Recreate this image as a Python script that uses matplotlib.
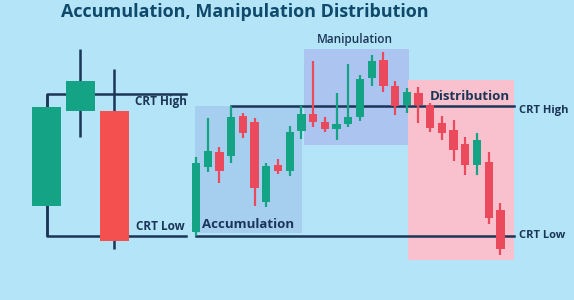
import matplotlib
matplotlib.use("Agg")
import matplotlib.pyplot as plt
from matplotlib.patches import Rectangle

# ---- data (price units) ----
left_open = [94, 189, 189]
left_close = [193, 219, 59]
left_high = [206, 251, 231]
left_low = [64, 163, 51]

main_open = [68, 133, 148, 144, 184, 178, 98, 135, 129, 169, 186, 178, 171, 176,
             183, 222, 240, 214, 195, 207, 195, 177, 170, 156, 135, 138, 90]
main_close = [137, 149, 129, 183, 167, 112, 134, 129, 168, 186, 178, 171, 176, 183,
              221, 239, 214, 194, 208, 195, 172, 167, 150, 135, 160, 82, 51]
main_high = [143, 182, 153, 194, 187, 182, 137, 141, 174, 194, 239, 183, 207, 236,
             225, 245, 248, 219, 212, 213, 197, 184, 180, 163, 167, 148, 97]
main_low = [64, 128, 117, 137, 162, 94, 93, 126, 124, 161, 173, 168, 160, 173,
            179, 214, 208, 185, 187, 177, 168, 160, 139, 125, 125, 76, 45]

left_crt_high, left_crt_low = 206, 64
main_crt_high, main_crt_low = 194, 64

phase_names = ["Accumulation", "Manipulation", "Distribution"]

BG = "#b4e4f7"
GREEN = "#14a384"
RED_LEFT = "#f4504f"
RED_MAIN = "#eb4a5c"
NAVY = "#1b3557"

fig = plt.figure(figsize=(5.74, 3.0), dpi=100, facecolor=BG)
ax = fig.add_axes([0, 0, 1, 1])
ax.set_xlim(0, 574)
ax.set_ylim(0, 300)
ax.axis("off")
ax.set_facecolor(BG)


def candle(x, o, h, l, c, w, red, wick_col=None, wick_lw=1.6, z=3):
    col = GREEN if c >= o else red
    ax.plot([x, x], [l, h], color=wick_col or col, lw=wick_lw,
            zorder=z, solid_capstyle="butt")
    ax.add_patch(Rectangle((x - w / 2, min(o, c)), w, abs(c - o), facecolor=col,
                           edgecolor="none", zorder=z + 0.5))


# ---- phase boxes ----
ax.add_patch(Rectangle((195, 67), 107, 127, facecolor="#a6cfef", edgecolor="none", zorder=1))
ax.add_patch(Rectangle((304, 155), 105, 96, facecolor="#abc5f0", edgecolor="none", zorder=1))
ax.add_patch(Rectangle((408, 40), 106, 180, facecolor="#f8c1cd", edgecolor="none", zorder=1))

# ---- left CRT diagram ----
lx0, lstep, lw = 46.5, 33.8, 29
ax.plot([lx0, lx0, 186], [left_crt_high - 13, left_crt_high, left_crt_high],
        color=NAVY, lw=1.8, zorder=2)
ax.plot([lx0, lx0, 186], [left_crt_low + 30, left_crt_low, left_crt_low],
        color=NAVY, lw=1.8, zorder=2)
for i in range(len(left_open)):
    candle(lx0 + lstep * i, left_open[i], left_high[i], left_low[i], left_close[i],
           lw, RED_LEFT, wick_col=NAVY, wick_lw=1.8)
ax.text(135, left_crt_high - 8, "CRT High", color=NAVY, fontsize=8.5,
        fontweight="bold", ha="left", va="center", family="Open Sans", zorder=5)
ax.text(136, left_crt_low + 9, "CRT Low", color=NAVY, fontsize=8.5,
        fontweight="bold", ha="left", va="center", family="Open Sans", zorder=5)

# ---- main sequence ----
mx0, mstep, mw = 196, 11.71, 8.3
ax.plot([mx0 + mstep * 3, 514], [main_crt_high, main_crt_high], color=NAVY, lw=1.8, zorder=2)
ax.plot([mx0, 514], [main_crt_low, main_crt_low], color=NAVY, lw=1.8, zorder=2)
for i in range(len(main_open)):
    candle(mx0 + mstep * i, main_open[i], main_high[i], main_low[i], main_close[i],
           mw, RED_MAIN)

ax.text(519, main_crt_high - 4, "CRT High", color=NAVY, fontsize=8,
        fontweight="bold", ha="left", va="center", family="Open Sans", zorder=5)
ax.text(519, main_crt_low + 1, "CRT Low", color=NAVY, fontsize=8,
        fontweight="bold", ha="left", va="center", family="Open Sans", zorder=5)

ax.text(248, 75, phase_names[0], color=NAVY, fontsize=9.5, fontweight="bold",
        ha="center", va="center", family="Open Sans", zorder=5)
ax.text(355, 260, phase_names[1], color=NAVY, fontsize=8.5, fontweight="semibold",
        ha="center", va="center", family="Open Sans", zorder=5)
ax.text(470, 204, phase_names[2], color=NAVY, fontsize=9.5, fontweight="bold",
        ha="center", va="center", family="Open Sans", zorder=5)

ax.text(245, 288, "Accumulation, Manipulation Distribution", color="#0f4a6b",
        fontsize=13, fontweight="bold", ha="center", va="center",
        family="Open Sans", zorder=5)

fig.savefig("out.png", dpi=100, facecolor=BG)
